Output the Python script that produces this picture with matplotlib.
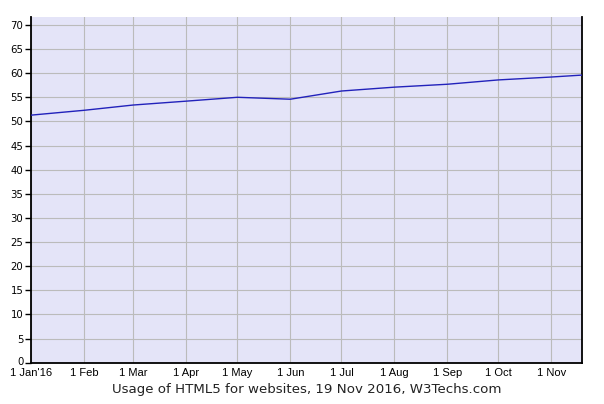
import matplotlib
matplotlib.use("Agg")
import matplotlib.pyplot as plt
import matplotlib.transforms as mtransforms
import numpy as np
from datetime import datetime

dates = ["2016-01-01", "2016-02-01", "2016-03-01", "2016-04-01", "2016-05-01",
         "2016-06-01", "2016-07-01", "2016-08-01", "2016-09-01", "2016-10-01",
         "2016-11-01", "2016-11-19"]
usage = [51.3, 52.3, 53.4, 54.2, 55.0, 54.6, 56.3, 57.1, 57.7, 58.6, 59.2, 59.6]

tick_dates = ["2016-01-01", "2016-02-01", "2016-03-01", "2016-04-01", "2016-05-01",
              "2016-06-01", "2016-07-01", "2016-08-01", "2016-09-01", "2016-10-01",
              "2016-11-01"]
tick_labels = ["1 Jan'16", "1 Feb", "1 Mar", "1 Apr", "1 May", "1 Jun", "1 Jul",
               "1 Aug", "1 Sep", "1 Oct", "1 Nov"]
y_ticks = [0, 5, 10, 15, 20, 25, 30, 35, 40, 45, 50, 55, 60, 65, 70]
title = "Usage of HTML5 for websites, 19 Nov 2016, W3Techs.com"

x = [datetime.strptime(d, "%Y-%m-%d") for d in dates]
xt = [datetime.strptime(d, "%Y-%m-%d") for d in tick_dates]

W, H = 604, 404
fig = plt.figure(figsize=(W / 100, H / 100), dpi=100)
left, right, top, bottom = 31, 582, 16.7, 362.7
ax = fig.add_axes([left / W, (H - bottom) / H, (right - left) / W, (bottom - top) / H])
ax.set_facecolor("#e4e4f8")

ax.plot(x, usage, color="#2222bb", lw=1.0, zorder=3)

ax.set_xlim(x[0], x[-1])
ax.set_ylim(0, 71.7)
ax.set_xticks(xt)
ax.set_xticklabels(tick_labels, fontsize=8, family="Liberation Sans")
ax.set_yticks(y_ticks)
ax.set_yticklabels([str(v) for v in y_ticks], fontsize=7.3, family="DejaVu Sans")
ax.tick_params(axis="x", length=0, pad=4)
ax.tick_params(axis="y", length=4, width=1, color="black", pad=1.5)
ax.grid(True, color="#bbbbbb", lw=0.8)
ax.set_axisbelow(True)

# nudge the "0" label up slightly so it clears the first date label
zero_lbl = ax.get_yticklabels()[0]
zero_lbl.set_transform(zero_lbl.get_transform() +
                       mtransforms.ScaledTranslation(0, 2 / 100, fig.dpi_scale_trans))

for s in ["left", "bottom", "right"]:
    ax.spines[s].set_color("black")
    ax.spines[s].set_linewidth(1.3)
ax.spines["top"].set_visible(False)

fig.text(307 / W, 1 - 389 / H, title, ha="center", va="center",
         fontsize=9.6, family="DejaVu Sans", color="#222222")

fig.savefig("out.png", dpi=100)
